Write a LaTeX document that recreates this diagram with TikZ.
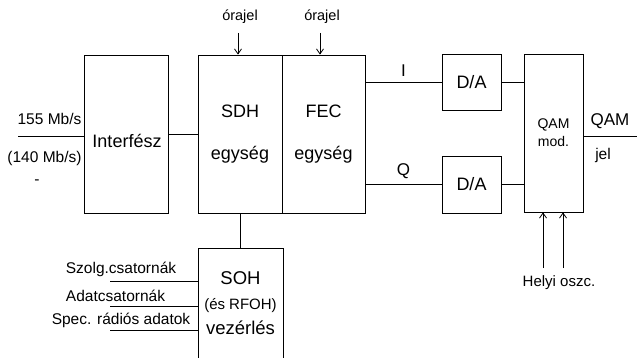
\documentclass[tikz,border=0pt]{standalone}
\usepackage{fontspec}
\setmainfont{Liberation Sans}
\usetikzlibrary{arrows.meta,positioning}

\begin{document}
\begin{tikzpicture}[
    x=1pt, y=-1pt,
    line width=0.8pt,
    box/.style={rectangle, draw=black, align=center, inner sep=0pt, font=\fontsize{18}{21}\selectfont},
    lbl/.style={inner sep=1pt, align=center, font=\fontsize{15.5}{17}\selectfont},
    arrow/.style={-{Straight Barb[length=5pt,width=7pt]}}
]
\useasboundingbox (0,0) rectangle (637,358);
\clip (0,0) rectangle (637,358);
% blocks
\node[box, minimum width=84pt, minimum height=158pt] (intf) at (126,134) {};
\node[inner sep=0pt, font=\fontsize{18}{21}\selectfont] (intftext) at (127,141) {Interfész};
\node[box, minimum width=84pt, minimum height=158pt, font=\fontsize{18}{42}\selectfont] (sdh) at (240,134) {SDH\\egység};
\node[box, minimum width=83pt, minimum height=158pt, font=\fontsize{18}{42}\selectfont] (fec) at (323.5,134) {FEC\\egység};
\node[box, minimum width=59pt, minimum height=56pt] (da1) at (471.5,82) {D/A};
\node[box, minimum width=59pt, minimum height=57pt] (da2) at (471.5,184.5) {D/A};
\node[box, minimum width=59pt, minimum height=158pt, font=\fontsize{14}{18}\selectfont] (qam) at (553.5,133) {QAM\\mod.};
\node[box, minimum width=85pt, minimum height=122pt] (soh) at (240.5,309) {};
\node[inner sep=0pt, align=center, font=\fontsize{18.5}{25}\selectfont] (sohtext) at (240.5,303) {SOH\\{\fontsize{15}{17}\selectfont(és RFOH)}\\vezérlés};
% input side
\coordinate (in) at (18,136);
\draw (in) -- (in -| intf.west);
\node[lbl] (rate1) at (49.5,119) {155 Mb/s};
\node[lbl] (rate2) at (44.5,158) {(140 Mb/s)};
\node[lbl] (dash) at (37,182) {-};
\draw (intf) -- (sdh);
% clocks
\node[lbl, font=\fontsize{14.5}{17}\selectfont] (clk1) at (240,17) {órajel};
\node[lbl, font=\fontsize{14.5}{17}\selectfont] (clk2) at (322,17) {órajel};
\coordinate (c1) at (238,33);
\coordinate (c2) at (320,33);
\draw[arrow] (c1) -- (c1 |- sdh.north);
\draw[arrow] (c2) -- (c2 |- fec.north);
% I and Q branches
\draw (fec.east |- da1) -- node[lbl, above=4pt, font=\fontsize{17}{19}\selectfont] (ilbl) {I} (da1.west);
\draw (fec.east |- da2) -- node[lbl, above=4pt, font=\fontsize{17}{19}\selectfont] (qlbl) {Q} (da2.west);
\draw (da1) -- (da1 -| qam.west);
\draw (da2) -- (da2 -| qam.west);
% output
\coordinate (out) at (637,136);
\draw (qam.east |- out) -- (out);
\node[lbl, font=\fontsize{17}{19}\selectfont] (outlbl1) at (610,121) {QAM};
\node[lbl] (outlbl2) at (603,155) {jel};
% local oscillator
\coordinate (osc1) at (543,268);
\coordinate (osc2) at (563,268);
\draw[arrow] (osc1) -- (osc1 |- qam.south);
\draw[arrow] (osc2) -- (osc2 |- qam.south);
\node[lbl, font=\fontsize{15}{17}\selectfont] (osclbl) at (559,283) {Helyi oszc.};
% SOH control
\draw (sdh.south) -- (sdh.south |- soh.north);
\coordinate (szolg) at (110,281);
\coordinate (adat) at (110,306);
\coordinate (spec) at (110,330);
\draw (szolg) -- (szolg -| soh.west);
\draw (adat) -- (adat -| soh.west);
\draw (spec) -- (spec -| soh.west);
\node[lbl] (szolglbl) at (121,269) {Szolg.csatornák};
\node[lbl] (adatlbl) at (115.5,296) {Adatcsatornák};
\node[lbl] (speclbl) at (121,320) {Spec. rádiós adatok};
\end{tikzpicture}
\end{document}
